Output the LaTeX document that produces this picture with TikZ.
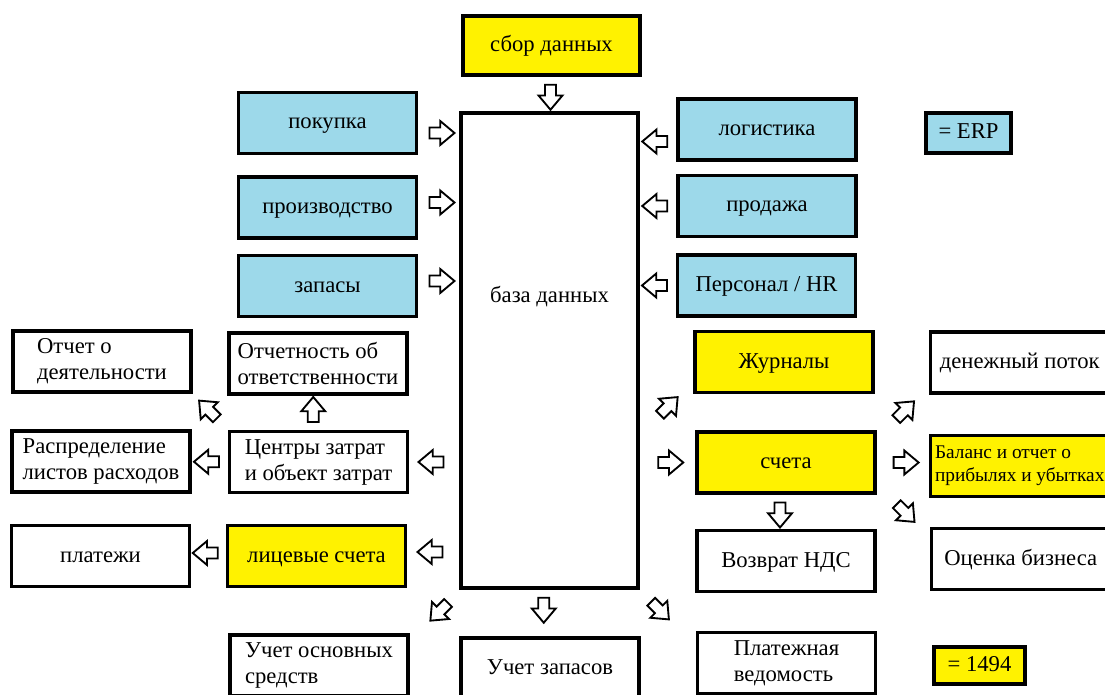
\documentclass[tikz,border=0pt]{standalone}
\usepackage{fontspec}
\setmainfont{Liberation Serif}
\usetikzlibrary{shapes.arrows,calc}
\definecolor{erpblue}{RGB}{157,217,234}
\definecolor{accyellow}{RGB}{255,242,0}
\tikzset{
  box/.style={draw, line width=2.6pt, minimum width=133.5pt, minimum height=45.75pt,
    inner sep=2pt, align=center, text height=12.5pt, text depth=3.5pt,
    font=\fontsize{17}{19.5}\selectfont},
  twoline/.style={align=left, text height=, text depth=},
  erpbox/.style={box, fill=erpblue},
  accbox/.style={box, fill=accyellow},
  barrow/.style={single arrow, draw, line width=1.4pt, fill=white, inner sep=3.4pt,
    minimum height=18.75pt, single arrow head extend=4.9pt, single arrow tip angle=80},
}
\begin{document}
\begin{tikzpicture}[x=0.75pt, y=-0.75pt]
  \useasboundingbox (0,0) rectangle (1105,695);
  \clip (0,0) rectangle (1105,695);
  \fill[white] (0,0) rectangle (1105,695);
  % centre column
  \node[accbox, minimum width=132.75pt, minimum height=44.25pt] (collect) at (551.5,45.5) {сбор данных};
  \node[box, minimum width=132.75pt, minimum height=356.25pt] (db) at (549.5,350.5) {};
  \node[font=\fontsize{17}{19.5}\selectfont] (dbtext) at ($(db.center)+(0,-54)$) {база данных};
  \node[box] (stockacc) at (550,668.5) {Учет запасов};
  % ERP modules
  \node[erpbox] (buy) at (327.5,123) {покупка};
  \node[erpbox] (prod) at (327.5,207.5) {производство};
  \node[erpbox] (stock) at (327.5,286) {запасы};
  \node[erpbox] (logist) at (767,129.5) {логистика};
  \node[erpbox] (sales) at (767,206) {продажа};
  \node[erpbox] (staff) at (766.5,285.5) {Персонал / HR};
  \node[erpbox, minimum width=63.75pt, minimum height=30pt] (erp) at (968.5,133) {= ERP};
  % left side
  \node[box, twoline] (activity) at (102,361.5) {Отчет о\\деятельности};
  \node[box, twoline] (resp) at (318,363.5) {Отчетность об\\ответственности};
  \node[box, twoline] (alloc) at (101,461.5) {Распределение\\листов расходов};
  \node[box, twoline] (cost) at (318.5,462) {Центры затрат\\и объект затрат};
  \node[box] (pay) at (100.5,556) {платежи};
  \node[accbox] (ledger) at (316.5,556) {лицевые счета};
  \node[box, twoline] (fixed) at (319,665.5) {Учет основных\\средств};
  % right side
  \node[accbox] (journal) at (784,362) {Журналы};
  \node[accbox] (accounts) at (786,462.5) {счета};
  \node[box] (vat) at (786,561) {Возврат НДС};
  \node[box, twoline] (payroll) at (786.5,663) {Платежная\\ведомость};
  \node[box, anchor=west, inner xsep=1pt] (cash) at (929,362.5) {денежный поток};
  \node[accbox, twoline, anchor=west, font=\fontsize{14.5}{17}\selectfont] (balance) at (929,466) {Баланс и отчет о\\прибылях и убытках};
  \node[box, anchor=west] (valuation) at (930,559) {Оценка бизнеса};
  \node[accbox, minimum width=68.25pt, minimum height=27.75pt] (lot) at (979.5,665.5) {= 1494};
  % block arrows
  \node[barrow, rotate=-90] (a0) at ($(collect.south)!.5!(db.north)$) {};
  \node[barrow] (inbuy) at ($(buy.east)!.5!(db.west |- buy.east)+(0,10)$) {};
  \foreach \n in {prod,stock}
    \node[barrow] (in\n) at ($(\n.east)!.5!(db.west |- \n.east)+(0,-5)$) {};
  \node[barrow, rotate=180] (inlogist) at ($(logist.west)!.5!(db.east |- logist.west)+(0,12)$) {};
  \foreach \n in {sales,staff}
    \node[barrow, rotate=180] (in\n) at ($(\n.west)!.5!(db.east |- \n.west)$) {};
  \node[barrow, rotate=180] (tocost) at ($(db.west |- cost.east)!.5!(cost.east)$) {};
  \node[barrow, rotate=180] (toledger) at ($(db.west |- ledger.east)!.5!(ledger.east)+(0,-4)$) {};
  \node[barrow, rotate=180] (toalloc) at ($(cost.west)!.5!(alloc.east)$) {};
  \node[barrow, rotate=180] (topay) at ($(ledger.west)!.5!(pay.east)+(0,-3)$) {};
  \node[barrow, rotate=90] (toresp) at ($(cost.north)!.5!(resp.south)+(-5,0)$) {};
  \node[barrow, rotate=135] (toactivity) at ($(cost.north west)!.5!(activity.south east)$) {};
  \node[barrow, rotate=45] (tojournal) at ($(db.east |- accounts.north)!.5!(journal.south west)+(0,-4)$) {};
  \node[barrow] (toaccounts) at ($(db.east |- accounts.west)!.5!(accounts.west)$) {};
  \node[barrow, rotate=-90] (tovat) at ($(accounts.south)!.5!(vat.north)+(-6,0)$) {};
  \node[barrow, rotate=45] (tocash) at ($(accounts.north east)!.5!(cash.south west)$) {};
  \node[barrow] (tobalance) at ($(accounts.east)!.5!(balance.west |- accounts.east)$) {};
  \node[barrow, rotate=-45] (tovaluation) at ($(accounts.south east)!.5!(valuation.north west)$) {};
  \node[barrow, rotate=-135] (tofixed) at ($(db.south west)!.5!(fixed.north east)+(7,-2)$) {};
  \node[barrow, rotate=-90] (tostockacc) at ($(db.south)!.5!(stockacc.north)+(-6,-6)$) {};
  \node[barrow, rotate=-45] (topayroll) at ($(db.south east)!.5!(payroll.north west)+(-10,-2)$) {};
\end{tikzpicture}
\end{document}
